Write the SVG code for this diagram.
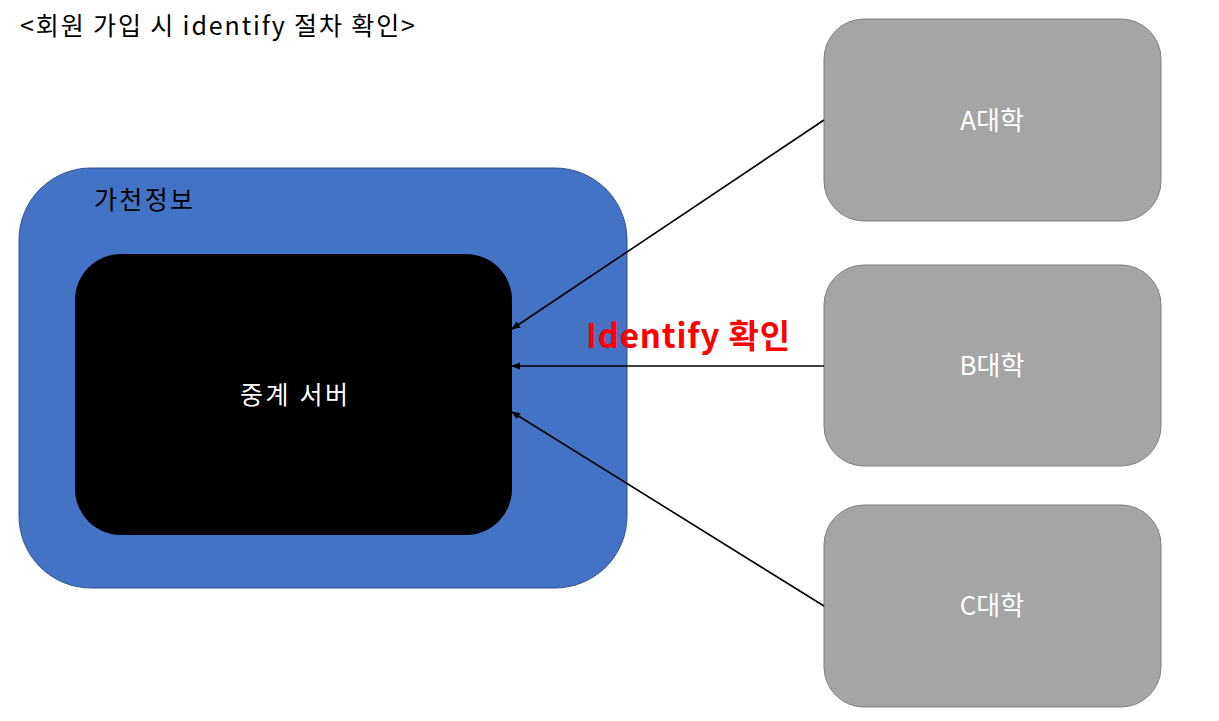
<svg xmlns="http://www.w3.org/2000/svg" width="1219" height="721" viewBox="0 0 1219 721">
<defs>
<style>
.t{font-family:"Noto Sans CJK KR","Noto Sans",sans-serif;}
.uni{fill:#a5a5a5;stroke:#7f7f7f;stroke-width:1;}
.ut{fill:#fff;font-size:26px;text-anchor:middle;}
.con{stroke:#000;stroke-width:1.6;fill:none;marker-end:url(#ah);}
</style>
<marker id="ah" viewBox="0 0 10 10" refX="9" refY="5" markerWidth="9" markerHeight="9" orient="auto" markerUnits="userSpaceOnUse">
<path d="M0,1 L10,5 L0,9 z" fill="#000"/>
</marker>
</defs>
<rect width="1219" height="721" fill="#fff"/>
<text class="t" x="20" y="35" font-size="25" fill="#000" textLength="395" lengthAdjust="spacing">&lt;회원 가입 시 identify 절차 확인&gt;</text>
<g id="gachon">
<rect x="19" y="168" width="608" height="420" rx="72" ry="72" fill="#4472c4" stroke="#2f528f" stroke-width="1"/>
<text class="t" x="94" y="209" font-size="25" fill="#000" textLength="99" lengthAdjust="spacing">가천정보</text>
</g>
<g id="server">
<rect x="75" y="254" width="437" height="281" rx="46" ry="46" fill="#000"/>
<text class="t" x="240" y="404" font-size="25" fill="#fff" textLength="108" lengthAdjust="spacing">중계 서버</text>
</g>
<g id="univA">
<rect class="uni" x="824" y="19" width="337" height="202" rx="40" ry="40"/>
<text class="t ut" x="992" y="130">A대학</text>
</g>
<g id="univB">
<rect class="uni" x="824" y="265" width="337" height="201" rx="40" ry="40"/>
<text class="t ut" x="992" y="375">B대학</text>
</g>
<g id="univC">
<rect class="uni" x="824" y="505" width="337" height="202" rx="40" ry="40"/>
<text class="t ut" x="992" y="615">C대학</text>
</g>
<g id="connectors">
<line class="con" x1="824" y1="120" x2="512" y2="329"/>
<line class="con" x1="824" y1="366" x2="512" y2="366"/>
<line class="con" x1="824" y1="606" x2="512" y2="412"/>
</g>
<text class="t" x="586" y="348" font-size="33" font-weight="bold" fill="#ff0000" textLength="204" lengthAdjust="spacing">Identify 확인</text>
</svg>
